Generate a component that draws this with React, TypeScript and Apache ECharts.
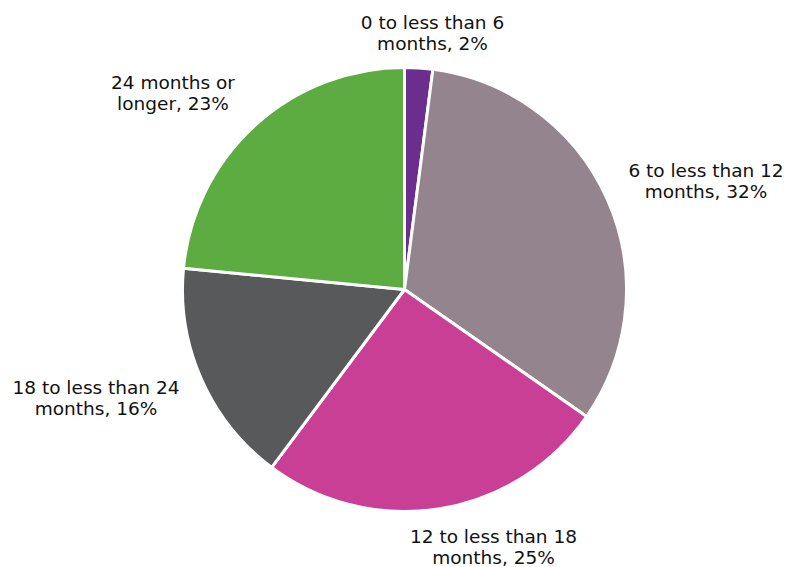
import React, { useEffect, useRef } from "react";
import * as echarts from "echarts";

const categories = [
  "0 to less than 6\nmonths",
  "6 to less than 12\nmonths",
  "12 to less than 18\nmonths",
  "18 to less than 24\nmonths",
  "24 months or\nlonger",
];
const values = [2, 32, 25, 16, 23];
const colors = ["#6b2d8e", "#93848d", "#c93f95", "#58595b", "#5cac42"];

// label centre offsets relative to pie centre (layout only)
const labelOffsets = [
  [28, -257],
  [301.5, -109],
  [89, 257],
  [-308.5, 108],
  [-231.5, -197],
];

const CX = 404.5;
const CY = 289.5;

export default function App() {
  const ref = useRef<HTMLDivElement>(null);
  useEffect(() => {
    if (!ref.current) return;
    const chart = echarts.init(ref.current, null, { renderer: "svg" });
    chart.setOption({
      animation: false,
      backgroundColor: "#ffffff",
      series: [
        {
          type: "pie",
          center: [CX, CY],
          radius: 222,
          startAngle: 90,
          clockwise: true,
          data: categories.map((name, i) => ({
            name,
            value: values[i],
            itemStyle: { color: colors[i] },
          })),
          itemStyle: { borderColor: "#ffffff", borderWidth: 3 },
          label: {
            show: true,
            position: "outside",
            alignTo: "none",
            edgeDistance: 0,
            bleedMargin: 0,
            overflow: "none",
            formatter: (p: any) => `${p.name}, ${p.value}%`,
            fontFamily: "DejaVu Sans",
            fontSize: 18.5,
            lineHeight: 21,
            color: "#111111",
            align: "center",
          },
          labelLine: { show: false },
          labelLayout: (params: any) => {
            const o = labelOffsets[params.dataIndex];
            return {
              x: CX + o[0],
              y: CY + o[1],
              width: 300,
              align: "center",
              verticalAlign: "middle",
            };
          },
          emphasis: { disabled: true },
        },
      ],
    });
    return () => chart.dispose();
  }, []);
  return (
    <div
      ref={ref}
      style={{ position: "fixed", left: 0, top: 0, width: 787, height: 567 }}
    />
  );
}
